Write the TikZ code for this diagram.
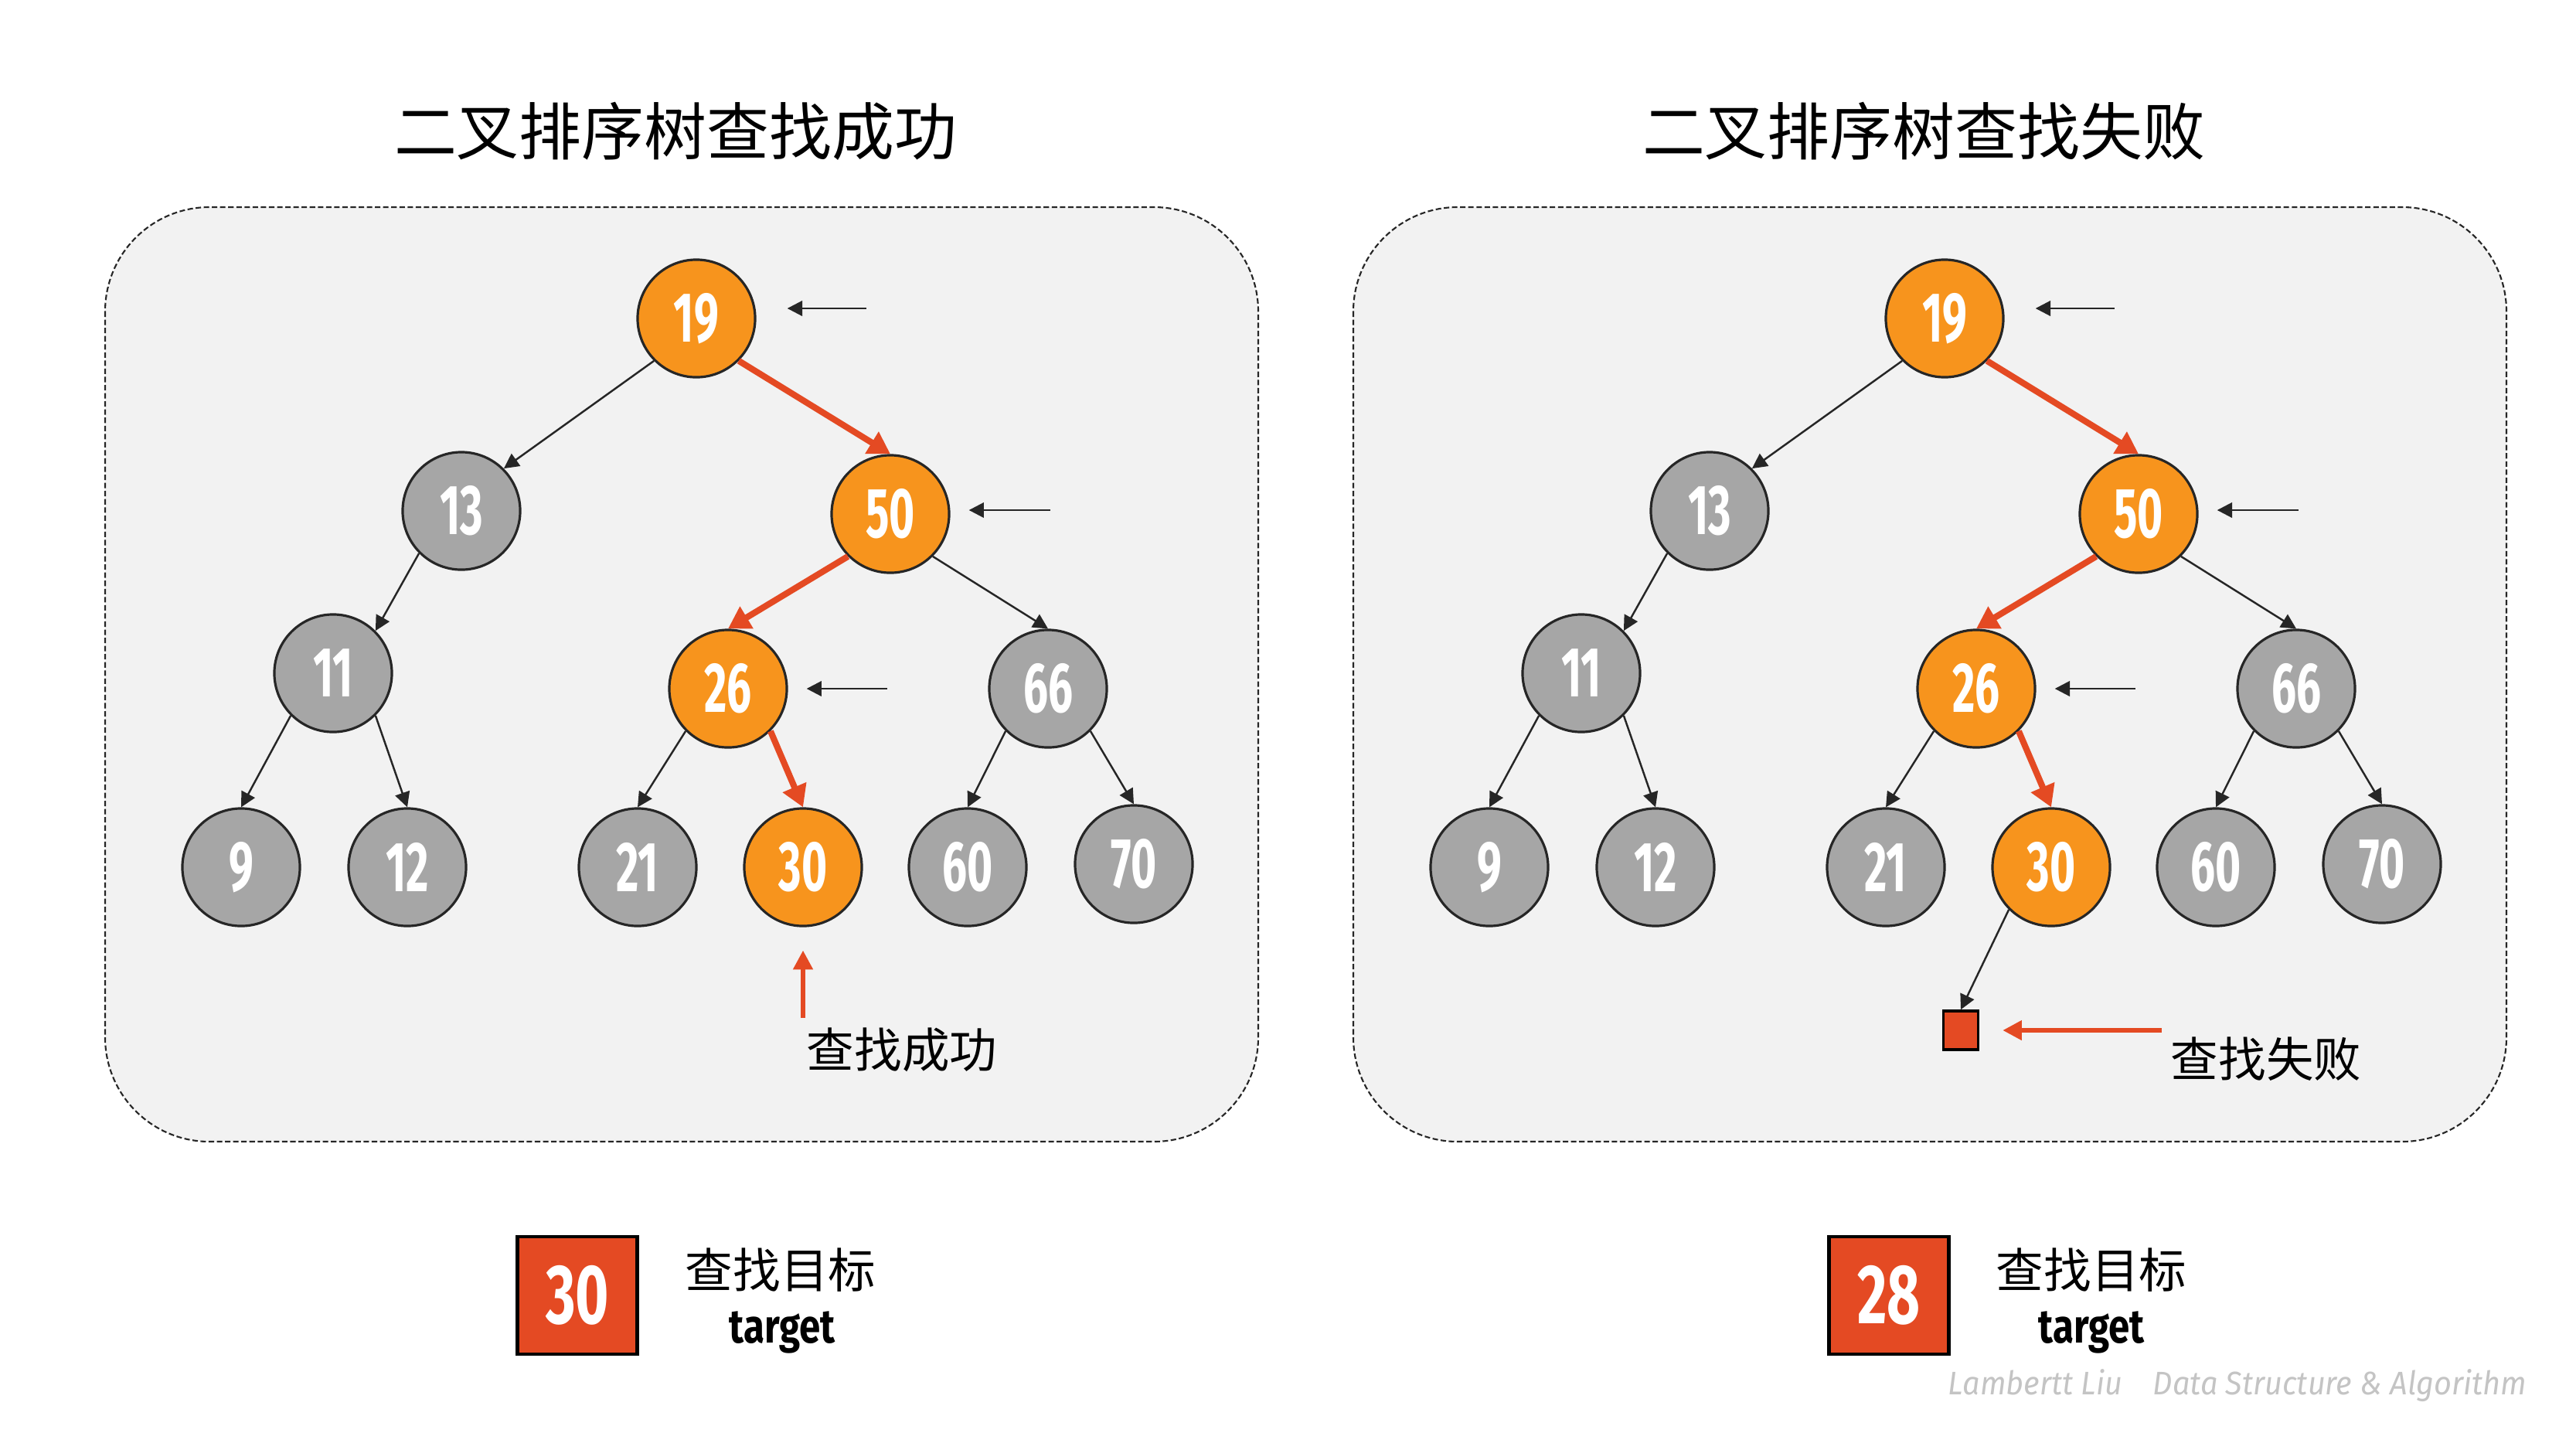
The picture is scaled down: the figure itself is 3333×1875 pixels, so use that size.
\documentclass[tikz,border=0pt]{standalone}
\usepackage{fontspec}
\usepackage{graphicx}
\setmainfont{Fira Sans}
\newfontfamily\cjk{Noto Sans CJK SC}
\usetikzlibrary{arrows.meta,positioning}
\definecolor{bstorange}{HTML}{F7941D}
\definecolor{bstgrey}{HTML}{A6A6A6}
\definecolor{bstred}{HTML}{E44A23}
\definecolor{panelbg}{HTML}{F2F2F2}
\definecolor{inkline}{HTML}{262626}
\definecolor{wmgrey}{HTML}{C4C4C4}
\tikzset{
  >={Triangle[length=5.5pt,width=5.5pt]},
  treenode/.style={circle,draw=inkline,line width=0.9pt,minimum size=1.52cm,inner sep=0pt,
    text=white,font=\fontsize{26}{26}\selectfont\bfseries},
  hitnode/.style={treenode,fill=bstorange},
  passnode/.style={treenode,fill=bstgrey},
  treeedge/.style={draw=inkline,line width=0.7pt,->},
  searchedge/.style={draw=bstred,line width=2.3pt,-{Triangle[length=8pt,width=9pt]}},
  pointer/.style={draw=inkline,line width=0.8pt,->},
  redpointer/.style={draw=bstred,line width=1.6pt,-{Triangle[length=7pt,width=7pt]}},
  panel/.style={draw=inkline,line width=0.6pt,dash pattern=on 2pt off 1pt,fill=panelbg,
    rounded corners=1.35cm},
  title/.style={font=\cjk\fontsize{23}{23}\selectfont},
  note/.style={font=\cjk\fontsize{17.5}{17.5}\selectfont},
  targetbox/.style={draw=black,line width=1.2pt,fill=bstred,minimum width=1.55cm,
    minimum height=1.52cm,inner sep=0pt,text=white,font=\fontsize{31}{31}\selectfont\bfseries},
  nullbox/.style={draw=black,line width=1pt,fill=bstred,minimum width=0.45cm,
    minimum height=0.5cm,inner sep=0pt},
  targetword/.style={font=\fontsize{17.5}{17.5}\selectfont\bfseries}
}
\newcommand{\squeeze}[2][0.62]{\scalebox{#1}[1]{#2}}

\begin{document}
\begin{tikzpicture}[x=0.01cm,y=-0.01cm]
  \useasboundingbox[fill=white] (0,0) rectangle (3333,1875);

  % titles
  \node[title] at (874,170) (ltitle){二叉排序树查找成功};
  \node[title] at (2489,170) (rtitle){二叉排序树查找失败};

  \foreach \p/\dx in {l/0,r/1615}
  {
    % panel
    \draw[panel] (\dx+136,268) rectangle (\dx+1628,1477);

    % tree
    \node[hitnode]  at (\dx+901,412)   (\p19){\squeeze{19}};
    \node[passnode] at (\dx+597,661)   (\p13){\squeeze{13}};
    \node[hitnode]  at (\dx+1152,665)  (\p50){\squeeze{50}};
    \node[passnode] at (\dx+431,871)   (\p11){\squeeze{11}};
    \node[hitnode]  at (\dx+942,891)   (\p26){\squeeze{26}};
    \node[passnode] at (\dx+1356,891)  (\p66){\squeeze{66}};
    \node[passnode] at (\dx+312,1122)  (\p9){\squeeze{9}};
    \node[passnode] at (\dx+527,1122)  (\p12){\squeeze{12}};
    \node[passnode] at (\dx+825,1122)  (\p21){\squeeze{21}};
    \node[hitnode]  at (\dx+1039,1122) (\p30){\squeeze{30}};
    \node[passnode] at (\dx+1252,1122) (\p60){\squeeze{60}};
    \node[passnode] at (\dx+1467,1118) (\p70){\squeeze{70}};

    \draw[treeedge] (\p19.south west) -- (\p13.north east);
    \draw[treeedge] (\p13.south west) -- (\p11.north east);
    \draw[treeedge] (\p11.south west) -- (\p9.north);
    \draw[treeedge] (\p11.south east) -- (\p12.north);
    \draw[treeedge] (\p26.south west) -- (\p21.north);
    \draw[treeedge] (\p50.south east) -- (\p66.north);
    \draw[treeedge] (\p66.south west) -- (\p60.north);
    \draw[treeedge] (\p66.south east) -- (\p70.north);

    % search path
    \draw[searchedge] (\p19.south east) -- (\p50.north);
    \draw[searchedge] (\p50.south west) -- (\p26.north);
    \draw[searchedge] (\p26.south east) -- (\p30.north);

    % pointers
    \coordinate[right=0.4cm of \p19.east,yshift=0.13cm] (\p19tip);
    \coordinate[right=1.02cm of \p19tip] (\p19tail);
    \draw[pointer] (\p19tail) -- (\p19tip);
    \coordinate[right=0.24cm of \p50.east,yshift=0.05cm] (\p50tip);
    \coordinate[right=1.05cm of \p50tip] (\p50tail);
    \draw[pointer] (\p50tail) -- (\p50tip);
    \coordinate[right=0.24cm of \p26.east] (\p26tip);
    \coordinate[right=1.04cm of \p26tip] (\p26tail);
    \draw[pointer] (\p26tail) -- (\p26tip);
  }

  % found
  \node[note] at (1167,1358) (lfound){查找成功};
  \coordinate[below=0.3cm of l30.south] (l30tip);
  \draw[redpointer] (lfound.north -| l30tip) -- (l30tip);

  % not found
  \node[nullbox] at (2537,1333) (rnull){};
  \draw[treeedge] (r30.south west) -- (rnull.north);
  \node[note] at (2932,1370) (rfail){查找失败};
  \coordinate[right=0.3cm of rnull.east] (rnulltip);
  \draw[redpointer] (rnulltip -| rfail.west) -- (rnulltip);

  % targets
  \node[targetbox] at (747,1676) (ltarget){\squeeze[0.68]{30}};
  \node[note] at (1010,1643) (lgoal){查找目标};
  \node[targetword] at (1012,1724) (lword){\squeeze[0.8]{target}};

  \node[targetbox] at (2444,1676) (rtarget){\squeeze[0.68]{28}};
  \node[note] at (2706,1643) (rgoal){查找目标};
  \node[targetword] at (2706,1724) (rword){\squeeze[0.8]{target}};

  % credit
  \node[font=\fontsize{12}{12}\selectfont\itshape,text=wmgrey] at (2895,1793) (credit)
    {\squeeze[0.94]{Lambertt Liu\quad Data Structure \& Algorithm}};
\end{tikzpicture}
\end{document}
